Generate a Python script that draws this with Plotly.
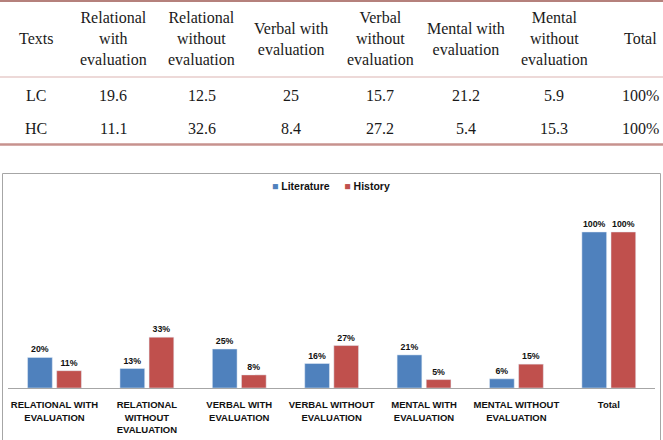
import plotly.graph_objects as go

# ---- data ----
table_header = ["Texts", "Relational<br>with<br>evaluation", "Relational<br>without<br>evaluation",
                "Verbal with<br>evaluation", "Verbal<br>without<br>evaluation",
                "Mental with<br>evaluation", "Mental<br>without<br>evaluation", "Total"]
row_lc = ["LC", "19.6", "12.5", "25", "15.7", "21.2", "5.9", "100%"]
row_hc = ["HC", "11.1", "32.6", "8.4", "27.2", "5.4", "15.3", "100%"]

categories = ["RELATIONAL WITH<br>EVALUATION", "RELATIONAL<br>WITHOUT<br>EVALUATION",
              "VERBAL WITH<br>EVALUATION", "VERBAL WITHOUT<br>EVALUATION",
              "MENTAL WITH<br>EVALUATION", "MENTAL WITHOUT<br>EVALUATION", "Total"]
series_names = ["Literature", "History"]
literature = [19.6, 12.5, 25, 15.7, 21.2, 5.9, 100]
history = [11.1, 32.6, 8.4, 27.2, 5.4, 15.3, 100]
colors = ["#4F81BD", "#C0504D"]

W, H = 663, 440
def px(x): return x / W
def py(y): return 1 - y / H

SANS = "Liberation Sans, Arial, sans-serif"
fig = go.Figure()
bar_font = dict(family=SANS, size=8.8, color="#111", weight="bold")
for name, vals, col in zip(series_names, [literature, history], colors):
    fig.add_trace(go.Bar(x=categories, y=vals, name=name, marker_color=col,
                         texttemplate="%{y:.0f}%", textposition="outside",
                         textfont=bar_font, cliponaxis=False, showlegend=False))

# ---- table as text ----
col_x = [36, 113, 202, 291, 380, 466, 554, 640]
serif = dict(family="Liberation Serif, Times New Roman, serif", size=16, color="#1a1a1a")
anns = []
for i, x in enumerate(col_x):
    for txt, y in ((table_header[i], 39), (row_lc[i], 96), (row_hc[i], 128)):
        anns.append(dict(x=px(x), y=py(y), xref="paper", yref="paper", text=txt, showarrow=False,
                         xanchor="center", yanchor="middle", font=serif, align="center"))

# legend (text)
legend_text = "&nbsp;&nbsp;&nbsp;&nbsp;&nbsp;".join(
    f"<span style='color:{c}'>■</span>&nbsp;{n}" for n, c in zip(series_names, colors))
anns.append(dict(x=px(331), y=py(186), xref="paper", yref="paper", text=legend_text,
                 showarrow=False, xanchor="center", yanchor="middle",
                 font=dict(family=SANS, size=10.5, color="#111", weight="bold")))

shapes = [
    dict(type="line", xref="paper", yref="paper", x0=0, x1=1, y0=py(1), y1=py(1),
         line=dict(color="#b5817c", width=2)),
    dict(type="line", xref="paper", yref="paper", x0=0, x1=1, y0=py(77), y1=py(77),
         line=dict(color="#dbb3b1", width=1)),
    dict(type="line", xref="paper", yref="paper", x0=0, x1=1, y0=py(144.5), y1=py(144.5),
         line=dict(color="#c7928e", width=2.5)),
    dict(type="rect", xref="paper", yref="paper", x0=px(2.5), x1=px(660.5), y0=py(173.5), y1=py(445),
         line=dict(color="#a6a6a6", width=1), fillcolor="rgba(0,0,0,0)"),
]

fig.update_layout(
    width=W, height=H, margin=dict(l=0, r=0, t=0, b=0, autoexpand=False),
    paper_bgcolor="white", plot_bgcolor="white",
    barmode="group", bargap=0.37, bargroupgap=0.15,
    annotations=anns, shapes=shapes, showlegend=False,
    xaxis=dict(domain=[px(8.3), px(655)], showline=True, linecolor="#a6a6a6", linewidth=1,
               ticks="", showgrid=False, automargin=False, ticklabelstandoff=8,
               tickfont=dict(family=SANS, size=9.5, color="#111", weight="bold")),
    yaxis=dict(domain=[py(388), py(200)], range=[0, 120.5], visible=False, showgrid=False),
)

fig.write_html("out.html")
